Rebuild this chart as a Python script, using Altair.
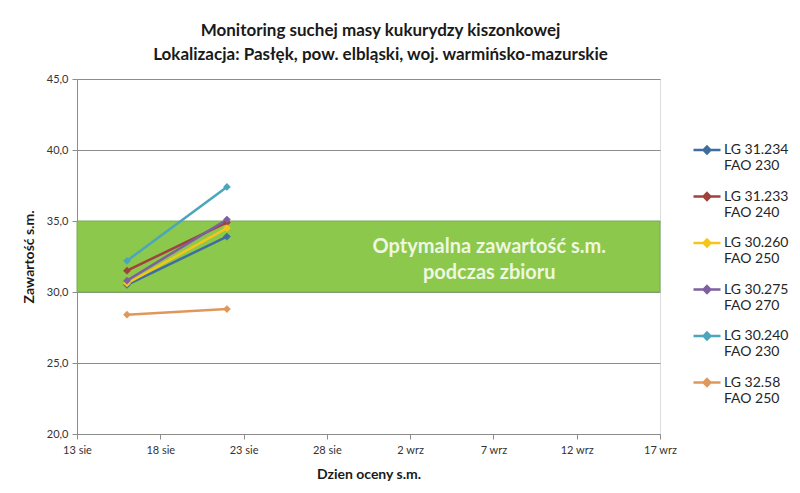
import pandas as pd
import altair as alt

# measurement dates and the optimal dry matter band
dates = ["2013-08-16", "2013-08-22"]
x_start, x_end = "2013-08-13", "2013-09-17"
band_low, band_high = 30.0, 35.0

hybrids = [
    "LG 31.234|FAO 230",
    "LG 31.233|FAO 240",
    "LG 30.260|FAO 250",
    "LG 30.275|FAO 270",
    "LG 30.240|FAO 230",
    "LG 32.58|FAO 250",
]
colors = ["#3f6e9e", "#a0413c", "#f5c518", "#7d60a0", "#4ba5bd", "#e0985a"]

lg_31_234 = [30.5, 33.9]
lg_31_233 = [31.5, 34.9]
lg_30_260 = [30.6, 34.5]
lg_30_275 = [30.8, 35.1]
lg_30_240 = [32.2, 37.4]
lg_32_58 = [28.4, 28.8]

series = [lg_31_234, lg_31_233, lg_30_260, lg_30_275, lg_30_240, lg_32_58]
rows = []
for name, vals in zip(hybrids, series):
    for d, v in zip(dates, vals):
        rows.append({"hybryda": name, "data": d, "sm": v})
df = pd.DataFrame(rows)

band_df = pd.DataFrame({"x": [x_start], "x2": [x_end], "y": [band_low], "y2": [band_high]})
# first line of the label sits at y, the second below it
label_df = pd.DataFrame({"x": ["2013-09-06T18:00"], "y": [33.2],
                         "txt": [["Optymalna zawartość s.m.", "podczas zbioru"]]})

tick_dates = [alt.DateTime(year=2013, month=8, date=13 + 5 * i, utc=True) for i in range(4)] + \
             [alt.DateTime(year=2013, month=9, date=2 + 5 * i, utc=True) for i in range(4)]

W, H = 583, 355
FONT = "Lato"

x_scale = alt.Scale(type="utc", domain=[alt.DateTime(year=2013, month=8, date=13, utc=True),
                                        alt.DateTime(year=2013, month=9, date=17, utc=True)])
y_scale = alt.Scale(domain=[20, 45], nice=False, zero=False)

x_axis = alt.Axis(
    values=tick_dates,
    labelExpr="utcdate(datum.value) + ' ' + (utcmonth(datum.value) == 7 ? 'sie' : 'wrz')",
    grid=False, title="Dzien oceny s.m.", labelAngle=0,
    labelFlush=False, labelOverlap=False,
    domainColor="#8c8c8c", tickColor="#8c8c8c", tickSize=5,
    labelFont=FONT, labelFontSize=11, labelColor="#333333", labelPadding=5,
    titleFont=FONT, titleFontSize=14, titleFontWeight="bold", titleColor="#1a1a1a",
    titlePadding=12,
)
y_axis = alt.Axis(
    values=[20, 25, 30, 35, 40, 45],
    labelExpr="replace(format(datum.value, '.1f'), '.', ',')",
    grid=True, gridColor="#8c8c8c", gridWidth=1, title="Zawartość s.m.",
    labelFlush=False,
    domainColor="#8c8c8c", tickColor="#8c8c8c", tickSize=5,
    labelFont=FONT, labelFontSize=11, labelColor="#333333", labelPadding=4,
    titleFont=FONT, titleFontSize=14, titleFontWeight="bold", titleColor="#1a1a1a",
    titlePadding=10,
)

band = alt.Chart(band_df).mark_rect(color="#8cc84b", stroke="#7aa85a", strokeWidth=1).encode(
    x=alt.X("x:T", scale=x_scale, axis=x_axis),
    x2="x2:T",
    y=alt.Y("y:Q", scale=y_scale, axis=y_axis),
    y2="y2:Q",
)

band_text = alt.Chart(label_df).mark_text(
    font=FONT, fontSize=20, fontWeight="bold", color="#eef7e0", lineHeight=26
).encode(x=alt.X("x:T", scale=x_scale), y=alt.Y("y:Q", scale=y_scale), text="txt")

color = alt.Color(
    "hybryda:N",
    scale=alt.Scale(domain=hybrids, range=colors),
    legend=alt.Legend(
        title=None, orient="none", legendX=615, legendY=56,
        labelExpr="split(datum.label, '|')",
        symbolType="M-1,0L1,0M0,-0.25L0.25,0L0,0.25L-0.25,0Z",
        symbolSize=730, symbolStrokeWidth=2.5,
        labelFont=FONT, labelFontSize=14, labelColor="#262626", labelOffset=2,
        rowPadding=8.5, labelLimit=200,
    ),
)

lines = alt.Chart(df).mark_line(strokeWidth=2.5).encode(
    x=alt.X("data:T", scale=x_scale),
    y=alt.Y("sm:Q", scale=y_scale),
    color=color,
    detail="hybryda:N",
)
points = alt.Chart(df).mark_point(shape="diamond", filled=True, size=60, opacity=1).encode(
    x=alt.X("data:T", scale=x_scale),
    y=alt.Y("sm:Q", scale=y_scale),
    color=color,
)

chart = alt.layer(band, band_text, lines, points).properties(
    width=W, height=H,
    title=alt.Title(
        ["Monitoring suchej masy kukurydzy kiszonkowej",
         "Lokalizacja: Pasłęk, pow. elbląski, woj. warmińsko-mazurskie"],
        font=FONT, fontSize=17, fontWeight="bold", color="#1a1a1a",
        anchor="middle", dx=12, offset=9, lineHeight=24,
    ),
    autosize=alt.AutoSizeParams(type="none"),
    padding={"left": 69, "top": 71, "right": 132, "bottom": 50},
).configure_view(stroke=None).configure(background="white")

chart.save("out.html", embed_options={"renderer": "svg", "actions": False})
